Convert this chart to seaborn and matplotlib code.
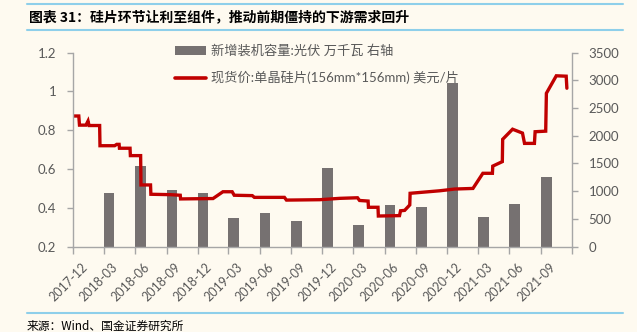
import numpy as np
import pandas as pd
import seaborn as sns
import matplotlib
matplotlib.use("Agg")
import matplotlib.pyplot as plt
import matplotlib.transforms as mtrans
from matplotlib.patches import Patch
from matplotlib.lines import Line2D
from matplotlib.ticker import FuncFormatter

# ---------------- data ----------------
title = "图表 31：硅片环节让利至组件，推动前期僵持的下游需求回升"
source = "来源：Wind、国金证券研究所"
bar_label = "新增装机容量:光伏 万千瓦 右轴"
line_label = "现货价:单晶硅片(156mm*156mm) 美元/片"

quarters = ["2018-03", "2018-06", "2018-09", "2018-12", "2019-03", "2019-06",
            "2019-09", "2019-12", "2020-03", "2020-06", "2020-09", "2020-12",
            "2021-03", "2021-06", "2021-09"]
capacity = [965, 1460, 1022, 965, 517, 615, 455, 1412, 391, 752, 712, 2950,
            530, 765, 1255]

price_dates = ["2017-12-01", "2017-12-18", "2017-12-20", "2018-01-08", "2018-01-14",
               "2018-01-17", "2018-02-17", "2018-02-18", "2018-04-02", "2018-04-08",
               "2018-04-15", "2018-04-16", "2018-05-17", "2018-05-18", "2018-06-17",
               "2018-06-18", "2018-07-16", "2018-07-17", "2018-09-11", "2018-10-11",
               "2018-10-12", "2019-01-15", "2019-02-13", "2019-03-12", "2019-03-18",
               "2019-05-10", "2019-05-16", "2019-08-12", "2019-08-18", "2019-11-23",
               "2020-01-21", "2020-03-13", "2020-03-19", "2020-04-13", "2020-04-14",
               "2020-05-12", "2020-05-13", "2020-07-14", "2020-07-17", "2020-07-29",
               "2020-08-13", "2020-08-14", "2020-11-09", "2020-12-23", "2021-02-14",
               "2021-03-15", "2021-04-12", "2021-04-13", "2021-05-11", "2021-05-12",
               "2021-06-10", "2021-07-09", "2021-07-15", "2021-08-13", "2021-08-15",
               "2021-09-15", "2021-09-17", "2021-10-16", "2021-11-14", "2021-11-16"]
price = [0.873, 0.873, 0.826, 0.826, 0.847, 0.824, 0.824, 0.720, 0.720, 0.727,
         0.727, 0.707, 0.707, 0.669, 0.669, 0.518, 0.518, 0.470, 0.468, 0.465,
         0.446, 0.448, 0.483, 0.483, 0.465, 0.463, 0.454, 0.454, 0.440, 0.442,
         0.449, 0.452, 0.438, 0.435, 0.403, 0.403, 0.358, 0.360, 0.385, 0.387,
         0.415, 0.475, 0.488, 0.497, 0.500, 0.578, 0.578, 0.615, 0.638, 0.753,
         0.805, 0.785, 0.732, 0.732, 0.792, 0.795, 0.990, 1.080, 1.078, 1.016]

tick_labels = ["2017-12", "2018-03", "2018-06", "2018-09", "2018-12", "2019-03",
               "2019-06", "2019-09", "2019-12", "2020-03", "2020-06", "2020-09",
               "2020-12", "2021-03", "2021-06", "2021-09"]
axis_end = "2021-12"

left_ticks = [0.2, 0.4, 0.6, 0.8, 1.0, 1.2]
right_ticks = [0, 500, 1000, 1500, 2000, 2500, 3000, 3500]

# ---------------- style ----------------
BG = "#FEFAF0"
TXT = "#595959"
AXC = "#A6A6A6"
BAR = "#767171"
RED = "#C00000"
BLUE = "#8ECFEA"

sns.set_theme(style="white")
plt.rcParams["font.family"] = ["Lato", "Noto Sans CJK SC", "DejaVu Sans"]
plt.rcParams["axes.unicode_minus"] = False

origin = pd.Timestamp("2017-12-01")
def days(s):
    return (pd.to_datetime(s) - origin).days

fig = plt.figure(figsize=(6.37, 3.32), dpi=100, facecolor=BG)
ax = fig.add_axes([73 / 637, 1 - 246.7 / 332, (572 - 73) / 637, (246.7 - 52.5) / 332])
ax2 = ax.twinx()

# bars (right axis) - each bar occupies its month slot
bar_x = np.array([days(q + "-01") for q in quarters], dtype=float) + 15.5
df_bar = pd.DataFrame({"x": bar_x, "v": capacity})
sns.barplot(data=df_bar, x="x", y="v", ax=ax2, native_scale=True,
            width=31 / 90, color=BAR, saturation=1, errorbar=None, linewidth=0)

# line (left axis)
df_line = pd.DataFrame({"x": [days(d) for d in price_dates], "v": price})
sns.lineplot(data=df_line, x="x", y="v", ax=ax, color=RED, linewidth=2.4,
             estimator=None, sort=False)
for l in ax.get_lines():
    l.set_solid_joinstyle("miter")

ax.set_zorder(2)
ax2.set_zorder(1)
ax.patch.set_visible(False)
ax2.patch.set_visible(False)

tick_pos = [days(t + "-01") for t in tick_labels + [axis_end]]
ax.set_xlim(0, days(axis_end + "-01"))
ax.set_ylim(0.2, 1.2)
ax2.set_ylim(0, 3500)
ax.set_xticks(tick_pos)
ax.set_xticklabels(tick_labels + [""])
ax.set_yticks(left_ticks)
ax.yaxis.set_major_formatter(FuncFormatter(lambda v, p: f"{v:g}"))
ax2.set_yticks(right_ticks)
ax.set_xlabel("")
ax.set_ylabel("")
ax2.set_xlabel("")
ax2.set_ylabel("")

for a in (ax, ax2):
    for s in a.spines.values():
        s.set_visible(False)
ax.spines["left"].set_visible(True)
ax.spines["bottom"].set_visible(True)
ax2.spines["right"].set_visible(True)
for s in (ax.spines["left"], ax.spines["bottom"], ax2.spines["right"]):
    s.set_color(AXC)
    s.set_linewidth(1.0)

ax.tick_params(axis="y", which="both", left=True, direction="out", length=4,
               width=1, color=AXC, labelsize=9.5, labelcolor=TXT, pad=8)
ax.tick_params(axis="x", which="both", bottom=True, direction="out", length=5,
               width=1, color=AXC, labelsize=9, labelcolor=TXT, pad=5)
ax2.tick_params(axis="y", which="both", right=True, direction="out", length=4,
                width=1, color=AXC, labelsize=9.5, labelcolor=TXT, pad=8)

offset = mtrans.ScaledTranslation(8 / 100, 0, fig.dpi_scale_trans)
for lab in ax.get_xticklabels():
    lab.set_rotation(45)
    lab.set_ha("right")
    lab.set_va("top")
    lab.set_rotation_mode("anchor")
    lab.set_transform(lab.get_transform() + offset)

# legend
handles = [Patch(facecolor=BAR, edgecolor="none"),
           Line2D([0], [0], color=RED, linewidth=2.6)]
fig.legend(handles, [bar_label, line_label], loc="upper left",
           bbox_to_anchor=(172 / 637, 1 - 42 / 332), frameon=False,
           fontsize=9.5, labelcolor=TXT, handlelength=2.4, handleheight=0.6,
           handletextpad=0.35, labelspacing=1.05, borderaxespad=0, borderpad=0.2)

# title block
fig.add_artist(Line2D([27 / 637, 623 / 637], [1 - 4 / 332] * 2, color=BLUE, lw=1.5))
fig.add_artist(Line2D([27 / 637, 623 / 637], [1 - 30 / 332] * 2, color=BLUE, lw=1.5))
fig.text(29 / 637, 1 - 17 / 332, title, fontsize=10, fontweight="bold",
         style="italic", color="black", va="center", ha="left",
         family=["Noto Sans CJK SC", "DejaVu Sans"])
fig.add_artist(Line2D([27 / 637, 623 / 637], [1 - 313 / 332] * 2, color=BLUE, lw=1.5))
fig.text(27 / 637, 1 - 326 / 332, source, fontsize=8.5, color="black",
         va="center", ha="left", family=["Noto Sans CJK SC", "DejaVu Sans"])

fig.savefig("out.png", dpi=100, facecolor=BG)
